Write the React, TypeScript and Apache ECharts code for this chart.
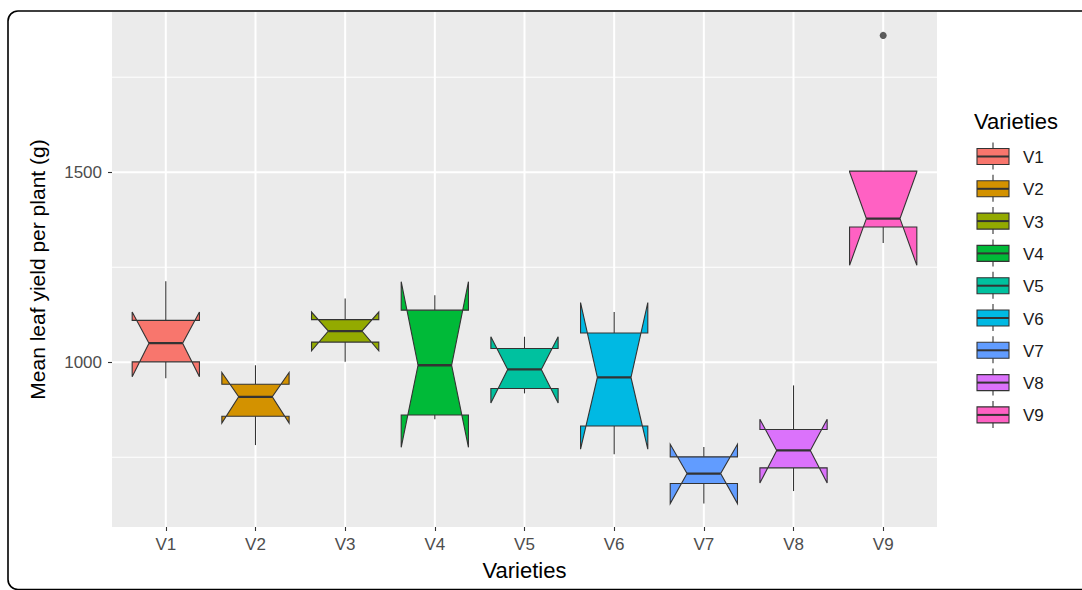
import React, { useEffect, useRef } from "react";
import * as echarts from "echarts";

const varieties = ["V1", "V2", "V3", "V4", "V5", "V6", "V7", "V8", "V9"];
const colors = ["#F8766D", "#D39200", "#93AA00", "#00BA38", "#00C19F", "#00B9E3", "#619CFF", "#DB72FB", "#FF61C3"];
const whiskerLow = [958, 782, 1001, 850, 918, 758, 628, 661, 1314];
const lowerQuartile = [1001, 858, 1053, 861, 931, 832, 681, 722, 1356];
const medians = [1050, 909, 1082, 992, 981, 960, 707, 768, 1378];
const upperQuartile = [1110, 942, 1112, 1137, 1036, 1077, 751, 823, 1503];
const whiskerHigh = [1213, 992, 1168, 1176, 1067, 1132, 777, 939, 1503];
const notchLow = [962, 840, 1030, 776, 893, 771, 628, 682, 1255];
const notchHigh = [1132, 973, 1132, 1212, 1067, 1157, 784, 850, 1501];
const outlierPoints = [[9, 1860]];
const yMajorTicks = [1000, 1500];
const yMinorTicks = [750, 1250, 1750];
const xTicks = [1, 2, 3, 4, 5, 6, 7, 8, 9];

const FONT = "'Liberation Sans', Arial, sans-serif";
const OUTLINE = "#333333";

export default function App() {
  const ref = useRef<HTMLDivElement>(null);

  useEffect(() => {
    document.body.style.margin = "0";
    const chart = echarts.init(ref.current!, null, { renderer: "svg" });

    const boxData = varieties.map((_, i) => [
      i + 1,
      whiskerLow[i],
      lowerQuartile[i],
      medians[i],
      upperQuartile[i],
      whiskerHigh[i],
      notchLow[i],
      notchHigh[i],
    ]);

    const gridData: number[][] = [];
    yMinorTicks.forEach((v) => gridData.push([1, v, 0]));
    yMajorTicks.forEach((v) => gridData.push([1, v, 1]));
    xTicks.forEach((v) => gridData.push([v, 1000, 2]));

    const legendChildren: any[] = [];
    legendChildren.push({
      type: "text",
      x: 974,
      y: 121,
      style: { text: "Varieties", font: `22px ${FONT}`, fill: "#000", verticalAlign: "middle", textAlign: "left" },
    });
    varieties.forEach((name, i) => {
      const top = 148.5 + i * 32.3;
      const left = 977;
      const w = 32;
      const h = 16;
      const cx = left + w / 2;
      legendChildren.push({
        type: "line",
        shape: { x1: cx, y1: top - 6, x2: cx, y2: top + h + 5 },
        style: { stroke: OUTLINE, lineWidth: 1.1 },
      });
      legendChildren.push({
        type: "rect",
        shape: { x: left, y: top, width: w, height: h },
        style: { fill: colors[i], stroke: OUTLINE, lineWidth: 1.1 },
      });
      legendChildren.push({
        type: "line",
        shape: { x1: left, y1: top + h / 2, x2: left + w, y2: top + h / 2 },
        style: { stroke: OUTLINE, lineWidth: 2 },
      });
      legendChildren.push({
        type: "text",
        x: 1023,
        y: top + h / 2 + 1,
        style: { text: name, font: `17px ${FONT}`, fill: "#1a1a1a", verticalAlign: "middle", textAlign: "left" },
      });
    });

    const option: any = {
      animation: false,
      backgroundColor: "#ffffff",
      textStyle: { fontFamily: FONT },
      grid: {
        left: 112,
        right: 145,
        top: 12,
        bottom: 63,
        show: true,
        backgroundColor: "#EBEBEB",
        borderWidth: 0,
      },
      xAxis: {
        type: "value",
        min: 0.4,
        max: 9.6,
        axisLine: { show: false },
        splitLine: { show: false },
        axisTick: { show: true, customValues: xTicks, length: 4, lineStyle: { color: OUTLINE, width: 1.1 } },
        axisLabel: {
          customValues: xTicks,
          formatter: (v: number) => varieties[Math.round(v) - 1] ?? "",
          color: "#4D4D4D",
          fontSize: 17,
          fontFamily: FONT,
          margin: 9,
        },
        name: "Varieties",
        nameLocation: "middle",
        nameGap: 32,
        nameTextStyle: { fontSize: 22, color: "#000", fontFamily: FONT },
      },
      yAxis: {
        type: "value",
        min: 566.4,
        max: 1921.6,
        axisLine: { show: false },
        splitLine: { show: false },
        axisTick: { show: true, customValues: yMajorTicks, length: 4, lineStyle: { color: OUTLINE, width: 1.1 } },
        axisLabel: {
          customValues: yMajorTicks,
          formatter: (v: number) => String(Math.round(v)),
          color: "#4D4D4D",
          fontSize: 17,
          fontFamily: FONT,
          margin: 10,
        },
        name: "Mean leaf yield per plant (g)",
        nameLocation: "middle",
        nameGap: 64,
        nameTextStyle: { fontSize: 21, color: "#000", fontFamily: FONT },
      },
      graphic: [
        {
          type: "rect",
          shape: { x: 8, y: 11, width: 1100, height: 578.5, r: 10 },
          style: { fill: "none", stroke: "#000", lineWidth: 1.6 },
          z: 100,
          silent: true,
        },
        { type: "group", children: legendChildren },
      ],
      series: [
        {
          type: "custom",
          z: 1,
          silent: true,
          data: gridData,
          encode: { x: 0, y: 1 },
          renderItem: (params: any, api: any) => {
            const cs = params.coordSys;
            const kind = api.value(2);
            if (kind === 2) {
              const p = api.coord([api.value(0), 1000]);
              return {
                type: "line",
                shape: { x1: p[0], y1: cs.y, x2: p[0], y2: cs.y + cs.height },
                style: { stroke: "#ffffff", lineWidth: 2 },
              };
            }
            const p = api.coord([1, api.value(1)]);
            return {
              type: "line",
              shape: { x1: cs.x, y1: p[1], x2: cs.x + cs.width, y2: p[1] },
              style: { stroke: "#ffffff", lineWidth: kind === 1 ? 2 : 1 },
            };
          },
        },
        {
          type: "custom",
          z: 2,
          data: boxData,
          encode: { x: 0, y: [1, 2, 3, 4, 5, 6, 7] },
          renderItem: (params: any, api: any) => {
            const x = api.value(0);
            const Y = (v: number) => api.coord([x, v])[1];
            const cx = api.coord([x, api.value(3)])[0];
            const w = api.size([0.75, 0])[0];
            const xmin = cx - w / 2;
            const xmax = cx + w / 2;
            const ind = w / 4;
            const wl = Y(api.value(1));
            const q1 = Y(api.value(2));
            const md = Y(api.value(3));
            const q3 = Y(api.value(4));
            const wh = Y(api.value(5));
            const nl = Y(api.value(6));
            const nu = Y(api.value(7));
            const pts = [
              [xmin, q3],
              [xmin, nu],
              [xmin + ind, md],
              [xmin, nl],
              [xmin, q1],
              [xmax, q1],
              [xmax, nl],
              [xmax - ind, md],
              [xmax, nu],
              [xmax, q3],
            ];
            return {
              type: "group",
              children: [
                { type: "line", shape: { x1: cx, y1: q3, x2: cx, y2: wh }, style: { stroke: OUTLINE, lineWidth: 1.1 } },
                { type: "line", shape: { x1: cx, y1: q1, x2: cx, y2: wl }, style: { stroke: OUTLINE, lineWidth: 1.1 } },
                {
                  type: "polygon",
                  shape: { points: pts },
                  style: { fill: colors[params.dataIndex], stroke: OUTLINE, lineWidth: 1.1, lineJoin: "miter" },
                },
                {
                  type: "line",
                  shape: { x1: xmin + ind, y1: md, x2: xmax - ind, y2: md },
                  style: { stroke: OUTLINE, lineWidth: 2.3 },
                },
              ],
            };
          },
        },
        {
          type: "scatter",
          z: 3,
          data: outlierPoints,
          symbol: "circle",
          symbolSize: 7,
          itemStyle: { color: OUTLINE },
        },
      ],
    };

    chart.setOption(option);
    return () => chart.dispose();
  }, []);

  return <div ref={ref} style={{ position: "fixed", left: 0, top: 0, width: 1082, height: 590 }} />;
}
